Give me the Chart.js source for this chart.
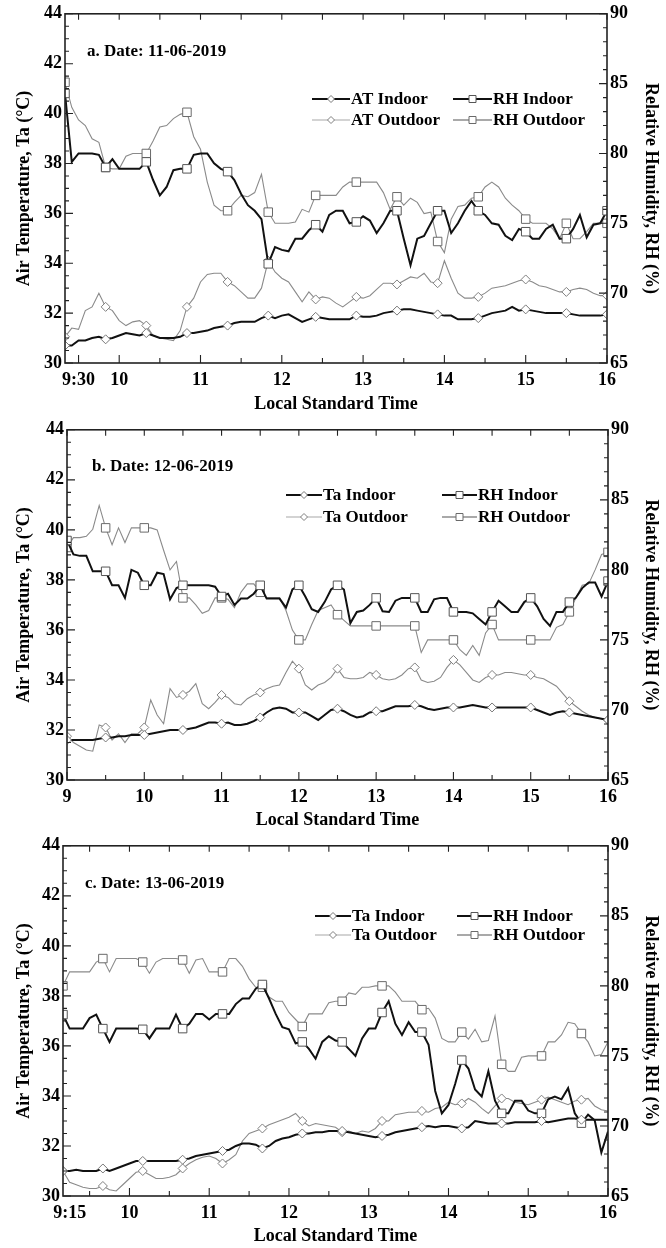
<!DOCTYPE html>
<html><head><meta charset="utf-8">
<script src="https://cdn.jsdelivr.net/npm/chart.js@4.4.1/dist/chart.umd.min.js"></script>
<style>
html,body{margin:0;padding:0;background:#fff;}
canvas{display:block;}
</style></head><body>
<canvas id="cA" width="666" height="416"></canvas>
<canvas id="cB" width="666" height="416"></canvas>
<canvas id="cC" width="666" height="416"></canvas>
<script>
// ---------------- DATA (5-minute readings) ----------------
const stepMin = 5;
const seriesLabelsA = ['AT Indoor', 'AT Outdoor', 'RH Indoor', 'RH Outdoor'];
const seriesLabelsBC = ['Ta Indoor', 'Ta Outdoor', 'RH Indoor', 'RH Outdoor'];

// Panel a : 11-06-2019, from 9:20 to 16:00
const dateA = 'a. Date: 11-06-2019';
const startA = 9 + 20 / 60;
const xTicksA = [9.5, 10, 11, 12, 13, 14, 15, 16];
const xLabelsA = ['9:30', '10', '11', '12', '13', '14', '15', '16'];
const atInA = [30.7,30.7,30.9,30.9,31.0,31.05,30.95,31.0,
 31.1,31.2,31.15,31.1,31.2,31.1,31.0,31.0,31.0,31.05,31.2,31.2,
 31.25,31.3,31.4,31.45,31.5,31.6,31.65,31.65,31.65,31.8,31.9,31.8,
 31.9,31.95,31.8,31.65,31.75,31.85,31.8,31.75,31.75,31.75,31.75,31.9,
 31.85,31.85,31.9,32.0,32.05,32.1,32.15,32.15,32.1,32.05,32.0,31.95,
 31.9,31.9,31.75,31.75,31.75,31.8,31.9,32.0,32.05,32.1,32.25,32.1,
 32.15,32.1,32.05,32.0,32.0,32.0,32.0,31.95,31.9,31.9,31.9,31.9,
 31.95];
const atOutA = [31.05,31.4,31.35,32.1,32.25,32.8,32.25,32.1,
 31.7,31.5,31.65,31.7,31.5,31.1,31.0,30.95,30.9,31.3,32.25,32.6,
 33.25,33.55,33.6,33.6,33.25,33.1,32.85,32.6,32.6,33.0,34.1,33.65,
 33.4,33.25,32.85,32.45,32.85,32.55,32.65,32.6,32.4,32.25,32.45,32.65,
 32.6,32.7,32.95,33.2,33.2,33.15,33.3,33.45,33.4,33.6,33.25,33.2,
 34.1,33.4,32.8,32.6,32.6,32.65,32.8,33.0,33.05,33.1,33.2,33.3,
 33.35,33.25,33.1,33.05,32.95,32.85,32.85,32.95,33.0,32.95,32.8,32.7,
 32.7];
const rhInA = [84.3,79.4,80.0,80.0,80.0,79.9,79.0,79.6,
 78.9,78.9,78.9,78.9,79.4,78.1,77.0,77.6,78.8,78.9,78.9,79.9,
 80.0,80.0,79.3,78.9,78.7,78.1,77.1,76.3,75.9,75.3,72.1,73.3,
 73.1,73.0,73.9,73.9,74.5,74.9,74.4,75.6,75.9,75.9,75.0,75.1,
 75.5,75.2,74.3,75.0,75.9,75.9,73.9,72.0,73.9,74.1,75.0,75.9,
 75.9,74.3,75.0,75.9,76.6,75.9,75.6,75.0,74.9,74.1,73.8,74.6,
 74.4,73.9,73.9,74.6,74.9,73.9,73.9,74.6,75.6,74.0,74.9,75.0,
 75.9];
const rhOutA = [85.1,83.3,82.4,82.0,81.05,80.8,79.0,78.9,
 78.9,79.8,80.0,80.0,80.0,80.9,81.9,82.0,82.5,82.8,82.95,81.2,
 80.3,77.95,76.3,75.9,75.9,76.5,77.0,76.9,77.2,78.5,75.8,75.0,
 75.0,75.0,75.1,76.0,75.8,77.0,77.0,77.0,77.0,77.6,77.95,77.95,
 77.95,77.95,77.95,77.2,76.0,76.9,76.3,76.8,76.5,75.7,75.8,73.7,
 72.9,75.3,76.2,76.3,76.8,76.9,77.6,77.95,77.6,76.8,76.3,75.9,
 75.3,75.0,75.0,75.0,74.6,73.9,75.0,73.9,73.9,74.4,75.0,75.0,
 75.0];
const markIdxA = [0,6,12,18,24,30,37,43,49,55,61,68,74,80];

// Panel b : 12-06-2019, from 9:00 to 16:00
const dateB = 'b. Date: 12-06-2019';
const startB = 9;
const xTicksB = [9, 10, 11, 12, 13, 14, 15, 16];
const xLabelsB = ['9', '10', '11', '12', '13', '14', '15', '16'];
const atInB = [31.6,31.6,31.6,31.6,31.6,31.65,31.7,31.7,31.75,31.75,31.8,31.8,
 31.8,31.85,31.9,31.95,32.0,32.0,32.0,32.05,32.1,32.2,32.3,32.3,
 32.25,32.3,32.2,32.2,32.25,32.35,32.5,32.7,32.85,32.9,32.85,32.7,
 32.7,32.7,32.55,32.4,32.6,32.8,32.85,32.75,32.6,32.5,32.55,32.7,
 32.75,32.75,32.85,32.95,32.95,32.95,33.0,32.95,32.85,32.8,32.85,32.9,
 32.9,32.9,32.95,33.0,32.95,32.9,32.9,32.9,32.9,32.9,32.9,32.9,
 32.9,32.8,32.7,32.6,32.7,32.75,32.7,32.65,32.6,32.55,32.5,32.45,
 32.4];
const atOutB = [31.75,31.5,31.35,31.2,31.15,32.2,32.1,31.6,31.85,31.5,31.85,31.85,
 32.1,33.2,32.6,32.25,33.65,33.3,33.4,33.55,33.85,33.05,32.85,33.1,
 33.4,33.3,33.05,33.0,33.25,33.4,33.5,33.65,33.75,33.8,34.3,34.75,
 34.45,33.8,33.6,33.8,33.9,34.1,34.45,34.1,34.05,34.05,34.1,34.3,
 34.2,34.05,34.0,34.05,34.2,34.45,34.5,34.0,33.9,33.95,34.1,34.5,
 34.8,34.6,34.3,34.0,33.9,34.1,34.2,34.2,34.3,34.3,34.25,34.2,
 34.2,34.1,34.05,33.9,33.75,33.45,33.15,32.95,32.75,32.6,32.5,32.45,
 32.4];
const rhInB = [82.1,81.1,81.0,81.0,79.9,79.9,79.9,78.9,78.9,78.0,80.0,79.8,
 78.9,78.9,79.8,79.7,77.9,78.7,78.9,78.9,78.9,78.9,78.9,78.8,
 78.1,78.3,77.5,77.95,77.95,78.3,78.9,77.95,77.95,77.95,77.3,78.6,
 78.9,78.1,77.2,77.0,77.7,78.6,78.9,78.6,76.2,77.0,77.1,77.5,
 78.0,77.05,77.0,77.8,78.0,78.0,78.0,77.0,77.0,77.9,78.0,78.0,
 77.0,77.0,77.0,76.9,76.5,76.1,77.0,77.8,77.4,77.0,77.0,77.7,
 78.0,77.4,76.5,76.0,77.0,77.0,77.7,78.0,78.7,79.1,79.1,78.1,
 79.2];
const rhOutB = [81.6,82.3,82.3,82.4,82.9,84.6,83.0,81.8,83.0,81.95,83.0,83.0,
 83.0,83.0,82.85,81.4,80.0,80.6,78.0,78.0,77.5,76.9,77.1,78.0,
 78.0,77.9,77.3,78.4,79.0,79.0,78.4,78.0,78.0,78.0,77.1,75.7,
 75.0,75.0,76.1,77.1,77.3,77.5,76.8,76.4,76.0,76.0,76.0,76.0,
 76.0,76.0,76.0,76.0,76.0,76.0,76.0,74.1,75.0,75.0,75.0,75.0,
 75.0,74.3,73.9,74.6,73.9,75.5,76.1,75.0,75.0,75.0,75.0,75.0,
 75.0,75.0,75.0,75.0,75.9,76.1,77.0,78.0,78.9,79.0,80.0,81.1,
 81.25];
const markIdxB = [0,6,12,18,24,30,36,42,48,54,60,66,72,78,84];

// Panel c : 13-06-2019, from 9:10 to 16:00
const dateC = 'c. Date: 13-06-2019';
const startC = 9 + 10 / 60;
const xTicksC = [9.25, 10, 11, 12, 13, 14, 15, 16];
const xLabelsC = ['9:15', '10', '11', '12', '13', '14', '15', '16'];
const atInC = [31.0,31.0,31.05,31.0,31.0,31.0,31.1,31.0,31.1,31.2,
 31.3,31.4,31.4,31.4,31.4,31.4,31.4,31.4,31.45,31.5,31.6,31.65,
 31.7,31.75,31.8,31.85,32.0,32.1,32.1,32.05,31.9,32.0,32.2,32.3,
 32.35,32.45,32.5,32.5,32.55,32.55,32.6,32.6,32.6,32.55,32.5,32.45,
 32.4,32.35,32.4,32.45,32.55,32.6,32.65,32.7,32.75,32.8,32.75,32.8,
 32.8,32.75,32.7,32.75,33.0,32.95,32.9,32.9,32.9,32.9,32.95,32.95,
 32.95,32.95,33.0,32.95,33.0,33.05,33.1,33.1,33.05,33.05,33.05,33.05,
 33.05];
const atOutC = [31.0,30.55,30.45,30.35,30.3,30.3,30.4,30.25,30.2,30.45,
 30.7,30.95,31.0,30.85,30.7,30.7,30.75,30.85,31.1,31.3,31.45,31.55,
 31.6,31.5,31.3,31.45,31.65,32.2,32.5,32.6,32.7,32.85,32.95,33.05,
 33.15,33.3,33.0,32.8,32.9,32.85,32.8,32.75,32.55,32.6,32.5,32.6,
 32.55,32.7,33.0,33.0,33.25,33.3,33.35,33.35,33.4,33.35,33.5,33.55,
 33.75,33.65,33.7,33.9,33.75,33.5,33.3,33.6,33.9,33.9,33.75,33.7,
 33.65,33.75,33.85,33.95,33.85,33.75,33.65,33.8,33.85,33.9,33.6,33.45,
 33.4];
const rhInC = [77.95,76.95,76.95,76.95,77.7,77.95,76.95,76.0,76.95,76.95,
 76.95,76.95,76.9,76.25,76.95,76.95,76.95,77.95,76.95,77.3,78.0,78.0,
 77.6,78.0,78.0,78.0,78.7,79.1,79.1,79.8,80.1,79.1,78.0,77.05,
 76.9,75.9,76.0,75.5,74.8,76.0,76.4,76.1,76.0,75.5,75.0,76.25,
 76.95,76.95,78.1,78.9,77.3,76.5,77.4,76.7,76.7,75.8,72.5,70.9,
 71.5,73.0,74.7,74.1,72.6,72.1,73.9,71.8,70.9,70.9,71.8,71.8,
 71.1,70.9,70.9,71.9,72.1,71.9,72.7,70.9,70.2,70.8,70.4,68.1,
 69.6];
const rhOutC = [80.0,81.0,81.0,81.0,81.0,81.7,81.95,81.0,81.95,81.95,
 81.95,81.95,81.7,80.9,81.7,81.95,81.95,81.95,81.85,80.9,81.85,81.95,
 81.0,81.0,81.0,81.95,81.95,81.4,80.5,79.9,79.9,79.2,78.9,78.9,
 78.1,77.6,77.1,78.0,78.0,78.0,78.8,78.9,78.9,79.5,79.4,79.9,
 79.9,80.0,80.0,80.0,79.55,78.9,78.9,78.9,78.3,78.4,77.7,76.25,
 76.0,76.0,76.7,76.2,76.9,76.0,76.1,77.85,74.4,73.9,73.9,74.9,
 75.0,75.0,75.0,76.0,76.0,76.5,77.4,77.3,76.6,76.0,75.0,75.1,
 76.0];
const markIdxC = [0,6,12,18,24,30,36,42,48,54,60,66,72,78];

const taTitle = 'Air Temperature, Ta (°C)';
const rhTitle = 'Relative Humidity, RH (%)';
const xTitle = 'Local Standard Time';

// ---------------- STYLE / LAYOUT ----------------
const FONT = '"Liberation Serif", "Times New Roman", serif';
Chart.defaults.font.family = FONT;
Chart.defaults.font.weight = 'bold';
Chart.defaults.color = '#000';

const styles = [
  {color:'#111', width:2, marker:'diamond', mColor:'#777', legColor:'#111', legWidth:2, order:0},
  {color:'#8a8a8a', width:1.1, marker:'diamond', mColor:'#808080', legColor:'#a8a8a8', legWidth:1.2, order:2},
  {color:'#111', width:2, marker:'square', mColor:'#555', legColor:'#111', legWidth:2, order:1},
  {color:'#8a8a8a', width:1.1, marker:'square', mColor:'#6a6a6a', legColor:'#555', legWidth:1.2, order:3}
];

function toXY(start, arr) {
  return arr.map((v, i) => ({x: start + i * stepMin / 60, y: v}));
}

function markerPath(ctx, kind, x, y, r) {
  ctx.beginPath();
  if (kind === 'diamond') {
    ctx.moveTo(x, y - r); ctx.lineTo(x + r, y); ctx.lineTo(x, y + r); ctx.lineTo(x - r, y); ctx.closePath();
  } else {
    ctx.rect(x - r, y - r, 2 * r, 2 * r);
  }
}

const decor = {
  id: 'decor',
  afterDraw(chart, args, p) {
    const ctx = chart.ctx, a = chart.chartArea;
    const sx = chart.scales.x, sy = chart.scales.y, sr = chart.scales.y1;
    ctx.save();
    ctx.strokeStyle = '#222';
    ctx.lineWidth = 1.6;
    ctx.strokeRect(a.left, a.top, a.right - a.left, a.bottom - a.top);
    ctx.lineWidth = 1.1;
    ctx.beginPath();
    for (let v = Math.ceil(sx.min * 2) / 2; v <= sx.max + 1e-9; v += 0.5) {
      const x = sx.getPixelForValue(v);
      const major = Number.isInteger(v) || p.xt.includes(v);
      const Lb = major ? 8 : 5, Lt = 6;
      ctx.moveTo(x, a.bottom); ctx.lineTo(x, a.bottom - Lb);
      ctx.moveTo(x, a.top); ctx.lineTo(x, a.top + Lt);
    }
    for (let v = 30; v <= 44.001; v += 0.5) {
      const y = sy.getPixelForValue(v);
      const L = (Math.abs(v % 2) < 1e-6) ? 8 : 4;
      ctx.moveTo(a.left, y); ctx.lineTo(a.left + L, y);
    }
    for (let v = 65; v <= 90.001; v += 1) {
      const y = sr.getPixelForValue(v);
      const L = (v % 5 === 0) ? 8 : 4;
      ctx.moveTo(a.right, y); ctx.lineTo(a.right - L, y);
    }
    ctx.stroke();

    // date label
    ctx.fillStyle = '#000';
    ctx.font = 'bold 17px ' + FONT;
    ctx.textBaseline = 'middle';
    ctx.textAlign = 'left';
    ctx.fillText(p.date, p.dateX, p.dateY);

    // legend
    p.legend.forEach(item => {
      const ds = chart.data.datasets[item.ds];
      const st = styles[item.ds];
      ctx.strokeStyle = st.legColor;
      ctx.lineWidth = st.legWidth;
      ctx.beginPath();
      ctx.moveTo(item.x1, item.y); ctx.lineTo(item.x2, item.y);
      ctx.stroke();
      const mx = (item.x1 + item.x2) / 2;
      markerPath(ctx, st.marker, mx, item.y, 3.5);
      ctx.fillStyle = '#fff'; ctx.fill();
      ctx.strokeStyle = st.mColor; ctx.lineWidth = 1; ctx.stroke();
      ctx.fillStyle = '#000';
      ctx.fillText(ds.label, item.x2 + 1, item.y + 1);
    });
    ctx.restore();
  }
};

function makePanel(p) {
  const series = [p.atIn, p.atOut, p.rhIn, p.rhOut];
  const datasets = series.map((vals, k) => {
    const st = styles[k];
    return {
      label: p.labels[k],
      data: toXY(p.start, vals),
      yAxisID: k < 2 ? 'y' : 'y1',
      borderColor: st.color,
      borderWidth: st.width,
      pointStyle: st.marker === 'diamond' ? 'rectRot' : 'rect',
      pointRadius: c => p.marks.includes(c.dataIndex) ? (st.marker === 'diamond' ? 4.5 : 6) : 0,
      pointBackgroundColor: '#fff',
      pointBorderColor: st.mColor,
      pointBorderWidth: 1,
      pointHoverRadius: 0,
      tension: 0,
      fill: false,
      order: st.order
    };
  });
  const tickFont = {size: 18, weight: 'bold', family: FONT};
  const titleFont = {size: 18, weight: 'bold', family: FONT};
  return new Chart(document.getElementById(p.id), {
    type: 'line',
    data: {datasets},
    options: {
      responsive: false,
      animation: false,
      events: [],
      layout: {padding: {top: p.top, left: 0, right: 0, bottom: 0}},
      plugins: {legend: {display: false}, tooltip: {enabled: false}, decor: p},
      scales: {
        x: {
          type: 'linear', min: p.start, max: 16,
          afterBuildTicks: s => { s.ticks = p.xt.map(v => ({value: v})); },
          ticks: {autoSkip: false, maxRotation: 0, padding: 7, font: tickFont, color: '#000',
                  callback: (v, i) => p.xl[i]},
          grid: {display: false, drawTicks: false},
          border: {display: false},
          title: {display: true, text: xTitle, font: titleFont, color: '#000', padding: {top: 0, bottom: 1}},
          afterFit: s => { s.height = p.xAxisH; }
        },
        y: {
          position: 'left', min: 30, max: 44,
          ticks: {stepSize: 2, padding: 3, font: tickFont, color: '#000'},
          grid: {display: false, drawTicks: false},
          border: {display: false},
          title: {display: true, text: taTitle, font: titleFont, color: '#000', padding: {top: 14, bottom: 0}},
          afterFit: s => { s.width = p.plotLeft; }
        },
        y1: {
          position: 'right', min: 65, max: 90,
          ticks: {stepSize: 5, padding: 3, font: tickFont, color: '#000'},
          grid: {display: false, drawTicks: false},
          border: {display: false},
          title: {display: true, text: rhTitle, font: titleFont, color: '#000', padding: {top: 5, bottom: 0}},
          afterFit: s => { s.width = 666 - p.plotRight; }
        }
      }
    },
    plugins: [decor]
  });
}

makePanel({
  id: 'cA', start: startA, atIn: atInA, atOut: atOutA, rhIn: rhInA, rhOut: rhOutA,
  labels: seriesLabelsA, xt: xTicksA, xl: xLabelsA, marks: markIdxA, date: dateA,
  top: 13, xAxisH: 53, plotLeft: 65, plotRight: 607, dateX: 87, dateY: 52,
  legend: [
    {ds: 0, x1: 312, x2: 350, y: 99},
    {ds: 1, x1: 312, x2: 350, y: 120},
    {ds: 2, x1: 453, x2: 492, y: 99},
    {ds: 3, x1: 453, x2: 492, y: 120}
  ]
});
makePanel({
  id: 'cB', start: startB, atIn: atInB, atOut: atOutB, rhIn: rhInB, rhOut: rhOutB,
  labels: seriesLabelsBC, xt: xTicksB, xl: xLabelsB, marks: markIdxB, date: dateB,
  top: 13, xAxisH: 52, plotLeft: 67, plotRight: 608, dateX: 92, dateY: 51,
  legend: [
    {ds: 0, x1: 286, x2: 322, y: 79},
    {ds: 1, x1: 286, x2: 322, y: 101},
    {ds: 2, x1: 442, x2: 477, y: 79},
    {ds: 3, x1: 442, x2: 477, y: 101}
  ]
});
makePanel({
  id: 'cC', start: startC, atIn: atInC, atOut: atOutC, rhIn: rhInC, rhOut: rhOutC,
  labels: seriesLabelsBC, xt: xTicksC, xl: xLabelsC, marks: markIdxC, date: dateC,
  top: 13, xAxisH: 52, plotLeft: 63, plotRight: 608, dateX: 85, dateY: 52,
  legend: [
    {ds: 0, x1: 315, x2: 351, y: 84},
    {ds: 1, x1: 315, x2: 351, y: 103},
    {ds: 2, x1: 457, x2: 492, y: 84},
    {ds: 3, x1: 457, x2: 492, y: 103}
  ]
});
</script>
</body></html>
